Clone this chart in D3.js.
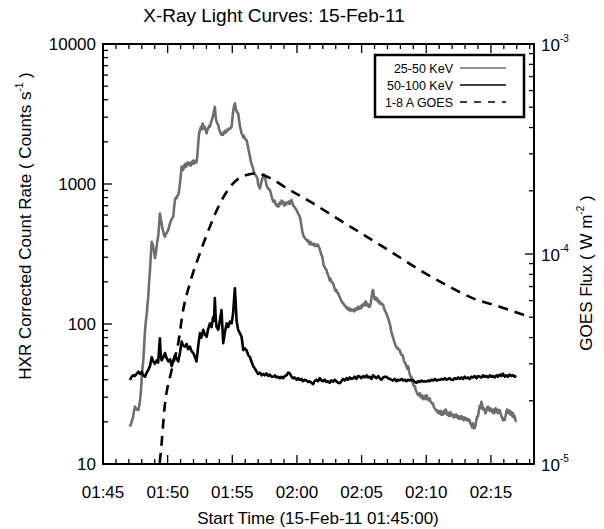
<!DOCTYPE html>
<html><head><meta charset="utf-8">
<script src="https://cdn.jsdelivr.net/npm/d3@7"></script>
<style>body{margin:0;background:#fff}svg{display:block}text{font-family:"Liberation Sans",Arial,Helvetica,sans-serif;fill:#000}</style>
</head><body>
<svg id="c" width="604" height="529"></svg>
<script>
// time in seconds after 01:45:00, rates in counts/s
const lowTime = [125,133,140,144,148,156,164,168,172,176,179,183,187,191,195,199,203,207,210,214,218,222,226,230,233,237,241,245,249,252,256,260,264,268,272,276,280,284,288,291,295,299,303,307,311,315,318,322,326,330,334,338,341,345,349,353,357,361,365,369,372,376,380,384,388,392,396,399,403,407,411,415,419,423,427,431,434,438,442,446,450,454,458,462,465,469,473,477,481,485,489,492,496,500,504,508,511,515,519,523,527,531,535,538,542,546,550,554,558,562,566,570,574,577,581,585,589,593,597,600,604,608,612,616,620,623,627,631,635,639,643,647,651,655,659,662,666,670,674,678,682,686,690,694,698,702,705,709,713,717,720,724,728,732,736,740,744,747,751,755,759,763,767,771,774,778,782,786,790,794,797,801,805,809,813,817,821,825,829,832,836,840,844,848,852,855,859,863,867,871,875,879,883,887,890,894,898,902,906,910,913,917,921,925,929,933,937,941,945,948,952,956,960,964,968,971,975,979,983,987,991,995,998,1002,1006,1010,1014,1018,1021,1025,1029,1033,1037,1041,1045,1049,1052,1056,1060,1064,1068,1072,1076,1079,1083,1087,1091,1095,1099,1103,1106,1110,1114,1118,1122,1126,1130,1134,1137,1141,1145,1149,1153,1157,1161,1165,1168,1172,1176,1180,1184,1188,1192,1196,1199,1203,1207,1211,1215,1219,1223,1227,1230,1234,1238,1242,1246,1250,1253,1257,1261,1265,1269,1273,1277,1281,1285,1288,1292,1296,1300,1304,1308,1311,1315,1319,1323,1327,1331,1335,1338,1342,1346,1350,1354,1358,1362,1366,1369,1373,1377,1381,1385,1389,1393,1396,1400,1404,1408,1412,1416,1420,1423,1427,1431,1435,1439,1443,1447,1451,1454,1458,1462,1466,1470,1474,1478,1481,1485,1489,1493,1497,1501,1505,1508,1512,1516,1520,1524,1528,1532,1535,1539,1543,1547,1551,1555,1559,1563,1566,1570,1574,1578,1582,1586,1590,1594,1597,1601,1605,1609,1613,1617,1620,1624,1628,1632,1636,1640,1644,1648,1651,1655,1659,1663,1667,1671,1674,1678,1682,1686,1690,1694,1698,1702,1705,1709,1713,1717,1721,1725,1729,1732,1736,1740,1744,1748,1752,1756,1760,1764,1767,1771,1775,1779,1783,1787,1791,1794,1798,1802,1806,1810,1814,1818,1822,1826,1830,1833,1837,1841,1845,1849,1852,1856,1860,1864,1868,1872,1875,1879,1883,1887,1891,1895,1899,1903,1906,1910,1914,1918];
const lowRate = [18.5,20,21.8,24,25.7,24.5,24.3,26,28.7,33,39.8,48,55,70,90,105,118,140,157,200,243,310,387,370,357,330,295,320,357,390,420,500,615,560,524,480,455,430,420,440,445,460,470,500,524,545,560,575,584,680,770,800,790,820,838,900,1010,1150,1330,1290,1260,1350,1380,1320,1410,1360,1430,1380,1406,1350,1440,1390,1470,1400,1460,1420,1443,1600,1950,2300,2430,2550,2450,2700,2640,2480,2550,2400,2300,2450,2520,2600,2570,2700,2850,2950,3100,3300,3560,3000,2800,2700,2640,2500,2380,2300,2240,2300,2250,2350,2400,2330,2380,2450,2430,2500,2480,2520,2570,2900,3300,3600,3770,3500,3300,3250,3200,2900,2600,2450,2300,2250,2150,2200,2100,2080,2060,1950,1800,1680,1570,1450,1380,1330,1260,1200,1180,1150,1130,1080,1000,960,931,980,1050,1100,1130,1170,1130,1050,980,950,930,910,906,870,820,780,748,740,760,720,700,715,689,700,740,720,760,740,748,700,730,710,740,735,725,750,720,760,769,730,700,690,680,665,651,630,610,600,584,550,500,460,430,420,410,405,398,390,395,380,370,385,375,370,367,375,360,368,362,370,367,355,340,325,311,300,280,260,255,248,243,230,222,215,205,210,200,198,195,185,178,172,175,168,166,160,155,150,147,143,141,138,135,134,130,128,131,126,129,124,127,125,126,123,128,125,130,127,133,128,129,134,130,137,135,140,136,145,141,135,138,133,133,140,155,170,175,160,150,155,148,152,144,146,140,142,138,139,137,130,125,122,119,114,110,105,100,94,88,84,80,76,73,70,68,68,66,66,65,62,60,60,58,55,53,52,50,48,50,46,44,42,42,39,37,36,36,34,33,32,31,31,32,30,31,31,29,30,30.5,29,31,30,29,28.5,29.5,28,27.5,27,27,25.5,25,24.5,24.3,23.5,24,23,23,24,22.5,23.5,22.5,24,23,24.5,23.6,22.5,23,22,23.5,22,23,22.5,22.3,21.5,22.5,21.8,22.5,21.5,22,21,21.8,21,22,21,21.5,20.5,21.5,20.8,21.2,20.5,21,20.2,20.5,19.5,19,18.2,19.5,18,18,19,20.5,21.8,21.8,24,26,25,27.8,26,24.5,25,24.3,23,24,25.5,25.7,24.5,24,25,24.3,23.5,24.5,23,24,25,23.5,24.5,23,24,24.3,23,22,21.5,20.5,21,20.6,22,23.5,24.5,24.3,23,24,22.5,23.5,22,23,21.5,22,20.5,20];
const highTime = [125,133,140,148,156,164,172,179,187,195,203,210,218,226,233,241,249,256,264,268,272,280,288,295,303,311,319,326,334,341,349,357,365,372,380,388,395,403,411,419,427,434,442,450,457,465,473,481,488,496,504,511,515,519,523,527,535,542,550,554,558,566,574,581,589,597,604,608,612,616,620,627,635,643,651,658,666,674,682,689,697,705,713,720,728,736,744,751,759,767,774,782,790,798,805,813,821,828,836,844,852,859,867,875,882,890,898,905,913,921,928,936,944,952,959,967,975,982,990,998,1006,1014,1021,1029,1037,1045,1052,1060,1068,1075,1083,1091,1099,1106,1114,1122,1130,1137,1145,1153,1161,1168,1176,1184,1192,1199,1207,1215,1223,1230,1238,1246,1253,1261,1269,1277,1284,1292,1300,1308,1315,1323,1331,1338,1346,1354,1362,1369,1377,1385,1393,1400,1408,1416,1424,1431,1439,1447,1455,1462,1470,1478,1485,1493,1501,1509,1516,1524,1532,1540,1547,1555,1563,1571,1578,1586,1594,1601,1609,1617,1624,1632,1640,1648,1655,1663,1671,1678,1686,1694,1702,1709,1717,1725,1733,1740,1748,1756,1764,1771,1779,1787,1795,1802,1810,1818,1826,1833,1841,1849,1856,1864,1872,1879,1887,1895,1903,1910,1918];
const highRate = [39.8,42,43,42.5,44,45.6,44,45.6,43,42,45,47,50,58,54,52,55,53,79,60,55,58,62,57,54,56,50,55,60,57,54,62,75,70,69,72,66,69,64,62,58,54,70,86,80,91,84,81,92,101,95,112,105,153,110,95,91,105,126,95,73,88,101,95,104,101,120,150,180,140,105,91,86,81,65,67,65,60,58,54,50,48,45.6,44,45,43,44,43,44.3,42.5,43.5,42,42,43,41.5,42,40.9,42,41,42.5,43,45,44.3,42,41,41.5,40,41,39.8,40.5,39,40,39.5,38.5,39,38,37.2,39,40,39,41,39.5,39,40,38.5,39,38,39.5,38.8,40,39,38,37.8,39,40.5,39.5,41,40,41.5,40.5,41,42,40.5,42.5,42,41,42.5,41.5,43,41.5,42,40.5,43,42,41,42.5,41,40,41.5,42,42,41,40.5,40,39.5,40.5,39,40,39.5,40.5,39.5,40,39,40,39.5,40,39.8,38.5,38,39,38.5,39.5,38.8,39,38.8,39.5,39,40,39.5,40.5,39.5,40,39.8,40.5,40,41,40,40.5,41,40,39.8,41,40.5,41.5,40.5,41.5,40.5,42,41,41.5,40.5,42,41.5,42.5,41,42.5,42,41.5,43,42,42.5,41.5,43,42,42.5,41.5,43,42,43.5,42.5,44.3,42,43,42,43.5,42.5,43,42,42.5];
const goesTime = [240,264,288,319,349,372,403,450,496,543,604,666,713,759,852,975,1099,1223,1346,1470,1594,1717,1841,1980];
const goesFlux = [0.85e-5,1.04e-5,1.95e-5,2.81e-5,3.76e-5,5.41e-5,7.24e-5,1.01e-4,1.35e-4,1.74e-4,2.17e-4,2.38e-4,2.42e-4,2.34e-4,2.06e-4,1.74e-4,1.45e-4,1.21e-4,1.01e-4,8.39e-5,7.11e-5,6.15e-5,5.61e-5,5.02e-5];
const xTickLabels = ["01:45","01:50","01:55","02:00","02:05","02:10","02:15"];
const leftTicks = [10,100,1000,10000];
const rightTicks = [["10","-5"],["10","-4"],["10","-3"]];
const legendLabels = ["25-50 KeV","50-100 KeV","1-8 A GOES"];
</script>
<script>
const svg = d3.select("#c");
const L=103, R=534, T=44, B=464;
const x = d3.scaleLinear().domain([0,2000]).range([L,R]);
const yL = d3.scaleLog().domain([10,10000]).range([B,T]);
const yR = d3.scaleLog().domain([1e-5,1e-3]).range([B,T]);
const gray = "#6e6e6e";

svg.append("clipPath").attr("id","clip").append("rect").attr("x",L).attr("y",T).attr("width",R-L).attr("height",B-T);

// ticks
const tk = svg.append("g").attr("stroke","#000").attr("stroke-width",1.3);
for (let m=0;m<=33;m++){
  const xx = x(m*60), len = (m%5===0)?9:5;
  tk.append("line").attr("x1",xx).attr("x2",xx).attr("y1",B).attr("y2",B-len);
  tk.append("line").attr("x1",xx).attr("x2",xx).attr("y1",T).attr("y2",T+len);
}
yL.ticks().forEach(v=>{
  const k = Math.round(v/Math.pow(10,Math.floor(Math.log10(v)+1e-9)));
  const len = k===1?9:5;
  tk.append("line").attr("x1",L).attr("x2",L+len).attr("y1",yL(v)).attr("y2",yL(v));
});
yR.ticks().forEach(v=>{
  const k = Math.round(v/Math.pow(10,Math.floor(Math.log10(v)+1e-9)));
  const len = k===1?9:5;
  tk.append("line").attr("x1",R).attr("x2",R-len).attr("y1",yR(v)).attr("y2",yR(v));
});

// data
const g = svg.append("g").attr("clip-path","url(#clip)").attr("fill","none");
const lineL = (ts,vs)=>d3.line().x((d,i)=>x(ts[i])).y(d=>yL(d))(vs);
g.append("path").attr("d",lineL(lowTime,lowRate)).attr("stroke",gray).attr("stroke-width",2.6).attr("stroke-linejoin","round");
g.append("path").attr("d",lineL(highTime,highRate)).attr("stroke","#000").attr("stroke-width",2.6).attr("stroke-linejoin","round");
const goesLine = d3.line().curve(d3.curveMonotoneX).x((d,i)=>x(goesTime[i])).y(d=>yR(d));
g.append("path").attr("d",goesLine(goesFlux)).attr("stroke","#000").attr("stroke-width",2.6).attr("stroke-dasharray","10,7");

// frame
svg.append("rect").attr("x",L).attr("y",T).attr("width",R-L).attr("height",B-T).attr("fill","none").attr("stroke","#000").attr("stroke-width",2);

// x labels
xTickLabels.forEach((s,i)=>{
  svg.append("text").attr("x",x(i*300)).attr("y",498).attr("text-anchor","middle").attr("font-size",17).text(s);
});
svg.append("text").attr("x",318).attr("y",524).attr("text-anchor","middle").attr("font-size",17).text("Start Time (15-Feb-11 01:45:00)");
leftTicks.forEach(v=>{
  svg.append("text").attr("x",96).attr("y",yL(v)+6).attr("text-anchor","end").attr("font-size",17).text(v);
});
rightTicks.forEach((p,i)=>{
  const t = svg.append("text").attr("x",541).attr("y",yR(Math.pow(10,-5+i))+7).attr("font-size",17);
  t.append("tspan").text(p[0]);
  t.append("tspan").attr("dy",-9).attr("font-size",10).text(p[1]);
});
svg.append("text").attr("x",274).attr("y",22).attr("text-anchor","middle").attr("font-size",19).text("X-Ray Light Curves: 15-Feb-11");
const lt = svg.append("text").attr("transform","translate(31,226) rotate(-90)").attr("text-anchor","middle").attr("font-size",17);
lt.append("tspan").text("HXR Corrected Count Rate  ( Counts s");
lt.append("tspan").attr("dy",-8).attr("font-size",10).text("-1");
lt.append("tspan").attr("dy",8).text(" )");
const rt = svg.append("text").attr("transform","translate(592,273) rotate(-90)").attr("text-anchor","middle").attr("font-size",17);
rt.append("tspan").text("GOES Flux ( W m");
rt.append("tspan").attr("dy",-8).attr("font-size",10).text("-2");
rt.append("tspan").attr("dy",8).text(" )");

// legend
svg.append("rect").attr("x",375).attr("y",55).attr("width",149).attr("height",62).attr("fill","#fff").attr("stroke","#000").attr("stroke-width",2.5);
const lstyles=[[gray,null,1.3],["#000",null,1.5],["#000","7,7",1.5]];
legendLabels.forEach((s,i)=>{
  const yy = 68+i*17;
  svg.append("text").attr("x",453).attr("y",yy+4.5).attr("text-anchor","end").attr("font-size",12.5).text(s);
  const ln = svg.append("line").attr("x1",460).attr("x2",506).attr("y1",yy).attr("y2",yy).attr("stroke",lstyles[i][0]).attr("stroke-width",lstyles[i][2]);
  if (lstyles[i][1]) ln.attr("stroke-dasharray",lstyles[i][1]);
});
</script>
</body></html>
